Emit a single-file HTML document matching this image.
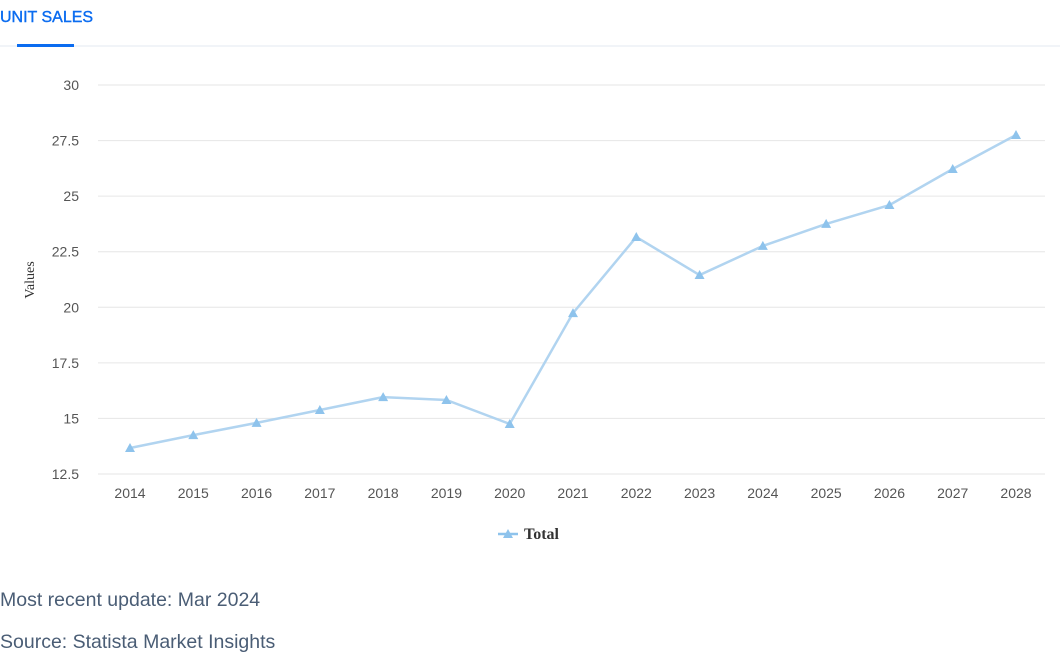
<!DOCTYPE html>
<html><head><meta charset="utf-8"><style>
body{margin:0;width:1060px;height:665px;background:#fff;font-family:"Liberation Sans",sans-serif;overflow:hidden;position:relative}
.tab{position:absolute;left:0;top:9px;font-size:16px;color:#0b6cf0;-webkit-text-stroke:0.4px #0b6cf0}
.tabline{position:absolute;left:17px;top:44px;width:57px;height:3px;background:#0b6cf0}
.sep{position:absolute;left:0;top:45px;width:1060px;height:2px;background:#f1f4f8}
.foot{position:absolute;left:0;font-size:19.5px;color:#4a5d75}
</style></head><body>
<div class="tab">UNIT SALES</div>
<div class="sep"></div>
<div class="tabline"></div>
<svg id="chart" width="1060" height="560" style="position:absolute;left:0;top:0"></svg>
<div class="foot" style="top:589px">Most recent update: Mar 2024</div>
<div class="foot" style="top:631px">Source: Statista Market Insights</div>
<script>
const years=["2014","2015","2016","2017","2018","2019","2020","2021","2022","2023","2024","2025","2026","2027","2028"];
const totals=[13.67,14.25,14.8,15.38,15.96,15.83,14.75,19.74,23.16,21.45,22.76,23.75,24.6,26.22,27.75];
const yTicks=[12.5,15,17.5,20,22.5,25,27.5,30];
const yTickLabels=["12.5","15","17.5","20","22.5","25","27.5","30"];
const NS="http://www.w3.org/2000/svg";
const svg=document.getElementById('chart');
const x=i=>130+i*(1016-130)/14;
const y=v=>474-(v-12.5)*(474-85)/17.5;
function mk(t,a,p){const e=document.createElementNS(NS,t);for(const k in a)e.setAttribute(k,a[k]);(p||svg).appendChild(e);return e;}
yTicks.forEach((v,i)=>{
 const l=mk('line',{x1:98,x2:1045,y1:y(v),y2:y(v),stroke:'#e6e6e6','stroke-width':1});
 
 
 const t=mk('text',{x:79,y:y(v)+5,'text-anchor':'end','font-size':14,fill:'#555'});
 t.textContent=yTickLabels[i];
 
 
});
years.forEach((yr,i)=>{
 const t=mk('text',{x:x(i),y:498,'text-anchor':'middle','font-size':14,fill:'#555'});
 t.textContent=yr;
 
 
});
const yt=mk('text',{x:0,y:0,transform:'translate(34,280) rotate(-90)','text-anchor':'middle','font-size':14,fill:'#333','font-family':'Liberation Serif'});
yt.textContent='Values';


const pl=mk('polyline',{points:totals.map((v,i)=>x(i)+','+y(v)).join(' '),fill:'none',stroke:'#b1d4f0','stroke-width':2.5});


totals.forEach((v,i)=>{
 const cx=x(i),cy=y(v);
 const m=mk('path',{d:`M${cx},${cy-5}L${cx+5},${cy+4}L${cx-5},${cy+4}Z`,fill:'#8ec3ec'});
 
 
});
const lg=mk('g',{});


mk('line',{x1:498,x2:518,y1:534,y2:534,stroke:'#8ec3ec','stroke-width':2.5},lg);
mk('path',{d:'M508,529L513,538L503,538Z',fill:'#8ec3ec'},lg);
const lt=mk('text',{x:524,y:539,'font-size':16,'font-weight':'bold',fill:'#333','font-family':'Liberation Serif'},lg);
lt.textContent='Total';
</script>
</body></html>
